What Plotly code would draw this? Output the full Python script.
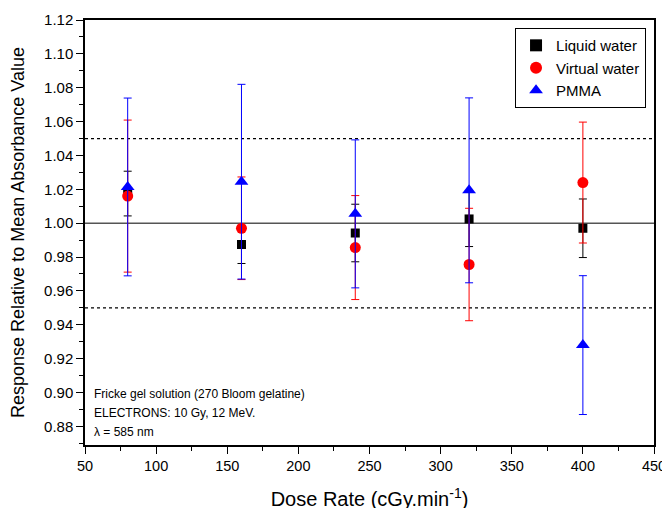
import plotly.graph_objects as go

dose_rate = [80, 160, 240, 320, 400]

liquid_water = [1.0175, 0.9874, 0.9942, 1.0025, 0.9970]
liquid_err = [0.0132, 0.0112, 0.0170, 0.0163, 0.0173]

virtual_water = [1.0160, 0.9970, 0.9856, 0.9756, 1.0240]
virtual_err = [0.0449, 0.0303, 0.0307, 0.0332, 0.0357]

pmma = [1.0214, 1.0245, 1.0055, 1.0194, 0.9280]
pmma_err = [0.0525, 0.0575, 0.0437, 0.0546, 0.0410]

ref_lines = [0.95, 1.05]
x_ticks = [50, 100, 150, 200, 250, 300, 350, 400, 450]
y_ticks = [0.88, 0.90, 0.92, 0.94, 0.96, 0.98, 1.00, 1.02, 1.04, 1.06, 1.08, 1.10, 1.12]

fig = go.Figure()

series = [
    ("Liquid water", liquid_water, liquid_err, "black", "square", 9),
    ("Virtual water", virtual_water, virtual_err, "red", "circle", 11),
    ("PMMA", pmma, pmma_err, "blue", "triangle-up", 12),
]
for name, vals, errs, col, sym, sz in series:
    fig.add_trace(go.Scatter(
        x=dose_rate, y=vals, mode="markers", name=name,
        marker=dict(color=col, symbol=sym, size=sz, line=dict(width=0)),
        error_y=dict(type="data", array=errs, visible=True, color=col,
                     thickness=1, width=4),
    ))

for v in ref_lines:
    fig.add_hline(y=v, line=dict(color="black", width=1.2, dash="dot"), layer="below")
fig.add_hline(y=1.0, line=dict(color="#555555", width=1.5), layer="below")

ann_lines = ["Fricke gel solution (270 Bloom gelatine)",
             "ELECTRONS: 10 Gy, 12 MeV.",
             "λ = 585 nm"]
ann_y = [0.12, 0.0753, 0.031]
for t, yy in zip(ann_lines, ann_y):
    fig.add_annotation(x=0.012, y=yy, xref="paper", yref="paper",
                       text=t, showarrow=False, xanchor="left", yanchor="middle",
                       font=dict(family="Liberation Sans, Arial", size=12, color="black"))

# page body has an 8px margin, so margins are offset accordingly
fig.update_layout(
    width=670, height=508,
    margin=dict(l=77, r=24, t=12, b=71),
    paper_bgcolor="white", plot_bgcolor="white",
    font=dict(family="Liberation Sans, Arial", color="black"),
    showlegend=True,
    legend=dict(x=0.986, y=0.981, xanchor="right", yanchor="top",
                bgcolor="white", bordercolor="black", borderwidth=1,
                font=dict(size=15), itemsizing="constant",
                tracegroupgap=0),
    xaxis=dict(range=[50, 450], tickvals=x_ticks, showgrid=False, zeroline=False,
               showline=True, linecolor="black", linewidth=1.5, mirror=True,
               ticks="outside", ticklen=7, tickwidth=1.2, tickcolor="black",
               minor=dict(ticks="outside", ticklen=4, dtick=25, tick0=50, tickcolor="black", tickwidth=1.2),
               tickfont=dict(size=14.5), automargin=False,
               title=dict(text="Dose Rate (cGy.min<sup>-1</sup>)", font=dict(size=20), standoff=19)),
    yaxis=dict(range=[0.869, 1.12], tickvals=y_ticks, tickformat=".2f", showgrid=False,
               zeroline=False, showline=True, linecolor="black", linewidth=1.5, mirror=True,
               ticks="outside", ticklen=7, tickwidth=1.2, tickcolor="black",
               minor=dict(ticks="outside", ticklen=4, dtick=0.01, tick0=0.87, tickcolor="black", tickwidth=1.2),
               tickfont=dict(size=15), automargin=False,
               title=dict(text="Response Relative to Mean Absorbance Value", font=dict(size=18), standoff=16)),
)

fig.write_html("out.html")
